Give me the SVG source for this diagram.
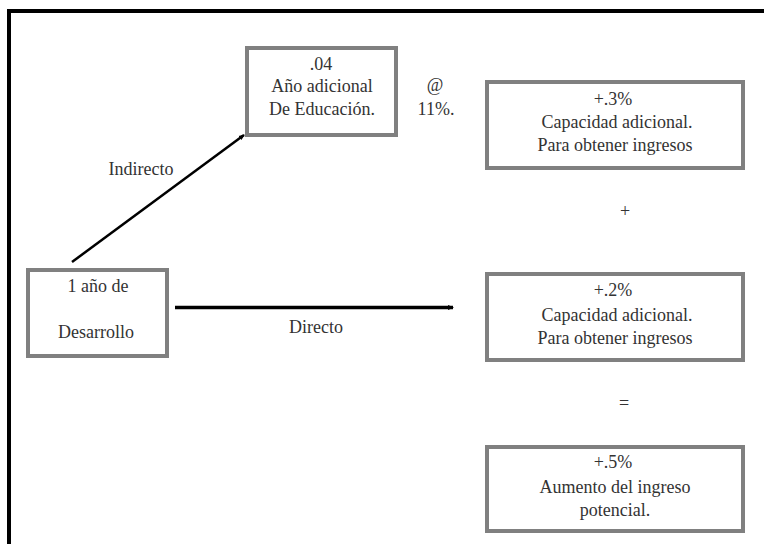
<svg xmlns="http://www.w3.org/2000/svg" width="764" height="544" viewBox="0 0 764 544">
<style>
.box{fill:#fff;stroke:#808080;stroke-width:4}
.t{font-family:"Liberation Serif","Times New Roman",serif;font-size:18px;fill:#333;text-anchor:middle}
.c{fill:none;stroke:#000}
</style>
<defs>
<marker id="ah" viewBox="0 0 6 6" refX="5" refY="3" markerWidth="6" markerHeight="6" markerUnits="userSpaceOnUse" orient="auto">
<path d="M0,0.5 L6,3 L0,5.5 z" fill="#000"/>
</marker>
</defs>
<rect width="764" height="544" fill="#fff"/>
<g id="frame">
<path d="M9,544 V11 H764" fill="none" stroke="#000" stroke-width="4"/>
</g>
<g id="connectors">
<line class="c" x1="72" y1="262" x2="244" y2="135" stroke-width="2.5" marker-end="url(#ah)"/>
<line class="c" x1="175" y1="307.5" x2="453" y2="307.5" stroke-width="3.5" marker-end="url(#ah)"/>
<text class="t" x="141" y="175">Indirecto</text>
<text class="t" x="316" y="333">Directo</text>
</g>
<g id="n-left">
<rect class="box" x="28" y="270" width="139" height="86"/>
<text class="t" x="98" y="292">1 año de</text>
<text class="t" x="96" y="338">Desarrollo</text>
</g>
<g id="n-top">
<rect class="box" x="247" y="48" width="149" height="87"/>
<text class="t" x="321" y="70">.04</text>
<text class="t" x="322" y="92">Año adicional</text>
<text class="t" x="322" y="115">De Educación.</text>
</g>
<g id="n-rate">
<text class="t" x="435" y="91">@</text>
<text class="t" x="436" y="115">11%.</text>
</g>
<g id="n-r1">
<rect class="box" x="487" y="82" width="256" height="86"/>
<text class="t" x="613" y="105">+.3%</text>
<text class="t" x="617" y="128">Capacidad adicional.</text>
<text class="t" x="615" y="151">Para obtener ingresos</text>
</g>
<g id="op-plus">
<text class="t" x="625" y="217">+</text>
</g>
<g id="n-r2">
<rect class="box" x="487" y="274" width="256" height="86"/>
<text class="t" x="613" y="296">+.2%</text>
<text class="t" x="617" y="321">Capacidad adicional.</text>
<text class="t" x="615" y="344">Para obtener ingresos</text>
</g>
<g id="op-eq">
<text class="t" x="624" y="409">=</text>
</g>
<g id="n-r3">
<rect class="box" x="487" y="447" width="256" height="84"/>
<text class="t" x="613" y="468">+.5%</text>
<text class="t" x="615" y="493">Aumento del ingreso</text>
<text class="t" x="615" y="516">potencial.</text>
</g>
</svg>
